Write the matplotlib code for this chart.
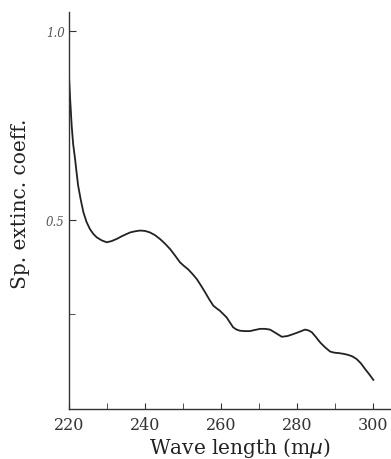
import matplotlib
matplotlib.use("Agg")
import matplotlib.pyplot as plt
from matplotlib.ticker import MultipleLocator, FixedLocator

# absorption curve
wave = [220.0, 220.3, 220.7, 221.1, 221.6, 222.0, 222.4, 223.1, 223.8, 224.6,
        225.5, 226.4, 227.3, 228.6, 229.9, 231.2, 232.6, 233.9, 235.2, 236.1,
        237.4, 238.7, 240.0, 241.3, 242.6, 243.9, 245.2, 246.6, 247.9, 249.2,
        250.3, 251.4, 252.5, 253.6, 254.7, 255.8, 256.9, 258.0, 259.0, 259.7,
        260.6, 261.5, 262.4, 263.2, 264.1, 265.0, 266.3, 267.6, 268.9, 270.3,
        271.6, 272.9, 274.4, 276.0, 277.5, 279.0, 280.6, 282.1, 283.0, 283.9,
        285.0, 286.1, 287.4, 288.7, 289.8, 290.9, 292.2, 293.5, 294.6, 295.7,
        296.8, 297.9, 299.0, 300.1]
coeff = [0.880, 0.820, 0.750, 0.700, 0.661, 0.625, 0.591, 0.553, 0.520, 0.495,
         0.476, 0.463, 0.454, 0.446, 0.441, 0.444, 0.450, 0.457, 0.463, 0.467,
         0.470, 0.472, 0.471, 0.467, 0.460, 0.450, 0.438, 0.423, 0.406, 0.388,
         0.378, 0.369, 0.357, 0.344, 0.327, 0.309, 0.290, 0.273, 0.265, 0.260,
         0.251, 0.242, 0.228, 0.216, 0.210, 0.207, 0.206, 0.206, 0.209, 0.212,
         0.212, 0.210, 0.201, 0.191, 0.193, 0.198, 0.204, 0.210, 0.208, 0.203,
         0.190, 0.176, 0.163, 0.152, 0.149, 0.148, 0.146, 0.143, 0.139, 0.132,
         0.121, 0.106, 0.092, 0.077]

x_ticks = [220, 240, 260, 280, 300]
y_ticks = [0.5, 1.0]
y_labels = ["0.5", "1.0"]

plt.rcParams["font.family"] = ["DejaVu Serif"]

fig = plt.figure(figsize=(3.91, 4.6), dpi=100)
ax = fig.add_axes([69 / 391, 50 / 460, 322 / 391, 397 / 460])

ax.plot(wave, coeff, color="#222222", lw=1.3, solid_joinstyle="round")

ax.set_xlim(220, 220 + 322 / 3.8)
ax.set_ylim(0, 1.05)

ax.spines["top"].set_visible(False)
ax.spines["right"].set_visible(False)
for s in ["left", "bottom"]:
    ax.spines[s].set_linewidth(1.0)
    ax.spines[s].set_color("#333333")

ax.xaxis.set_major_locator(FixedLocator(x_ticks))
ax.xaxis.set_minor_locator(MultipleLocator(10))
ax.set_yticks(y_ticks)
ax.set_yticklabels(y_labels, fontsize=8.5, color="#555555", style="italic")
ax.yaxis.set_minor_locator(FixedLocator([0.25]))

ax.tick_params(axis="both", which="both", direction="in", color="#333333")
ax.tick_params(axis="x", which="major", length=4, labelsize=11.5, pad=5,
               labelcolor="#333333")
ax.tick_params(axis="x", which="minor", length=4)
ax.tick_params(axis="y", which="major", length=5, pad=3)
ax.tick_params(axis="y", which="minor", length=4)

ax.set_xlabel("Wave length (m$\\mu$)", fontsize=14.5, color="#222222", labelpad=3)
ax.xaxis.set_label_coords(0.53, -0.065)
ax.set_ylabel("Sp. extinc. coeff.", fontsize=14.5, color="#222222")
ax.yaxis.set_label_coords(-0.12, 0.52)

fig.savefig("out.png", dpi=100)
